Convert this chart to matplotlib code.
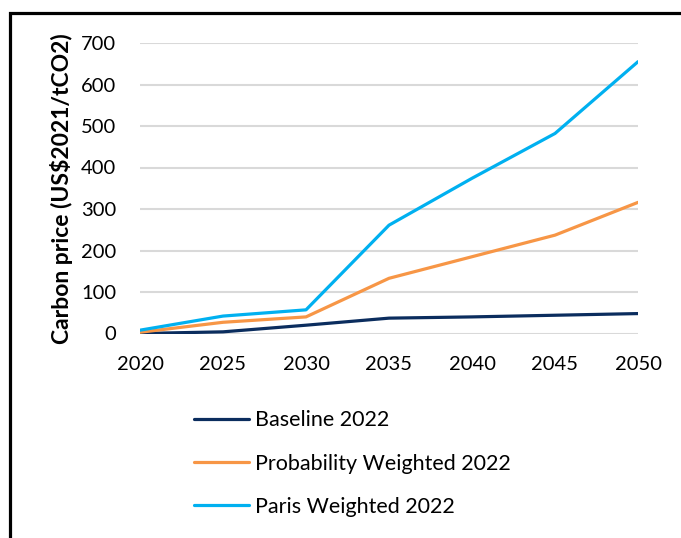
import matplotlib
matplotlib.use("Agg")
import matplotlib.pyplot as plt
from matplotlib.patches import Rectangle

# Carbon price trajectories (US$2021/tCO2)
years = [2020, 2025, 2030, 2035, 2040, 2045, 2050]
baseline_2022 = [0, 4, 20, 37, 40, 44, 48]
probability_weighted_2022 = [3, 27, 40, 133, 185, 237, 316]
paris_weighted_2022 = [8, 42, 57, 261, 374, 482, 655]

series_names = ["Baseline 2022", "Probability Weighted 2022", "Paris Weighted 2022"]
series_colors = ["#0B2D5E", "#F79646", "#00B0F0"]

y_ticks = [0, 100, 200, 300, 400, 500, 600, 700]
x_ticks = years

plt.rcParams["font.family"] = ["Lato", "DejaVu Sans"]

W, H = 681, 538
fig = plt.figure(figsize=(W / 100, H / 100), dpi=100)
ax = fig.add_axes([140 / W, 1 - 333.5 / H, (638 - 140) / W, (333.5 - 43) / H])

for vals, name, col in zip(
    [baseline_2022, probability_weighted_2022, paris_weighted_2022], series_names, series_colors
):
    ax.plot(years, vals, color=col, lw=2.3, label=name, solid_capstyle="round", zorder=3)

ax.set_xlim(2020, 2050)
ax.set_ylim(0, 700)
ax.set_xticks(x_ticks)
ax.set_yticks(y_ticks)
ax.tick_params(axis="both", length=0, labelsize=14.5, colors="#000000")
ax.tick_params(axis="y", pad=17)
ax.tick_params(axis="x", pad=16)
ax.grid(axis="y", color="#D9D9D9", lw=1.5, zorder=0)
ax.set_axisbelow(True)
for s in ax.spines.values():
    s.set_visible(False)

ax.set_ylabel("Carbon price (US$2021/tCO2)", fontsize=16.5, fontweight="bold", labelpad=6)

leg = fig.legend(
    loc="upper left",
    bbox_to_anchor=(175 / W, 1 - 391 / H),
    frameon=False,
    fontsize=15.5,
    handlelength=2.55,
    handletextpad=0.25,
    labelspacing=1.08,
)
for line in leg.get_lines():
    line.set_linewidth(2.3)

# Outer frame (open on right and bottom)
fig.patches.append(
    Rectangle((9.5 / W, -0.1), 1.2, 1.1 - 13 / H, transform=fig.transFigure,
              fill=False, edgecolor="black", lw=2.3, zorder=10)
)

fig.savefig("out.png", dpi=100)
